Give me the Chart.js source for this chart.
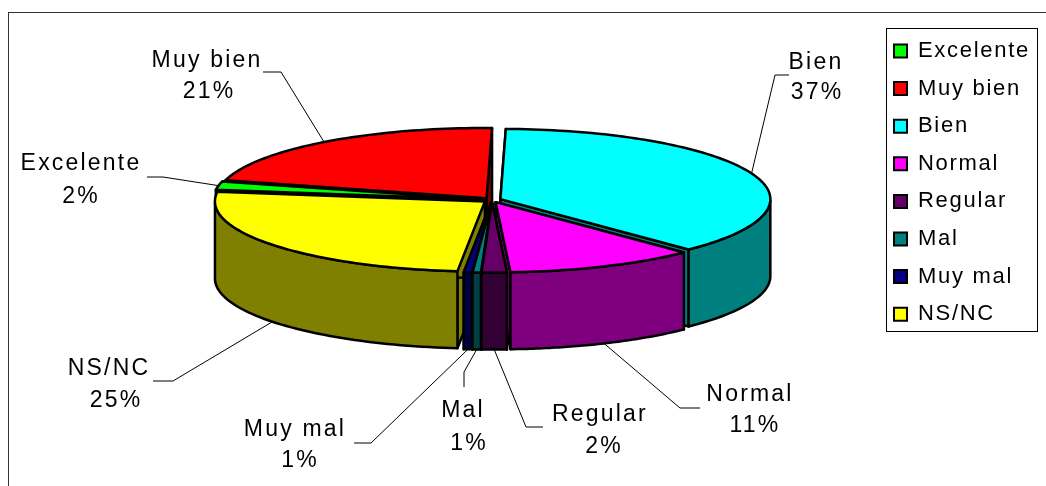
<!DOCTYPE html>
<html>
<head>
<meta charset="utf-8">
<style>
  html, body { margin: 0; padding: 0; background: #fff; overflow: hidden; }
  #frame { position: absolute; left: 8px; top: 12px; width: 1100px; height: 500px; border-left: 1px solid #333; border-top: 1px solid #333; }
  #k1 { position: absolute; left: 0; top: 0; }
</style>
<script src="https://cdn.jsdelivr.net/npm/chart.js@4"></script>
</head>
<body>
<div id="frame"></div>
<canvas id="k1" width="1046" height="486"></canvas>
<script>
const categories = ['Excelente', 'Muy bien', 'Bien', 'Normal', 'Regular', 'Mal', 'Muy mal', 'NS/NC']
const shares = [1.9, 21.2, 37.4, 11.4, 1.5, 0.5, 0.5, 25.6]
const percentLabels = ['2%', '21%', '37%', '11%', '2%', '1%', '1%', '25%']
const topColors = ['#00ff00', '#ff0000', '#00ffff', '#ff00ff', '#660066', '#008080', '#000080', '#ffff00']

// callout text centres and the two bends of each leader line
const nameSpots = [[81, 164], [207, 61], [816, 63], [750, 395], [600, 415], [463, 411], [295, 430], [109, 369]]
const percentSpots = [[81, 197], [209, 92], [817, 93], [755, 426], [604, 447], [469, 444], [300, 461], [116, 401]]
const elbows = [[163, 177], [281, 72], [775, 75], [680, 408], [526, 427], [464, 372], [371, 443], [173, 381]]
const leaderEnds = [[147, 177], [263, 72], [789, 75], [700, 408], [543, 427], [464, 387], [354, 443], [153, 381]]

const PIE_X = 492
const PIE_Y = 200
const RADIUS = 270
const SQUASH = 0.26
const DEPTH = 77
const EXPLODE = 9
const FONT_FAMILY = '"Liberation Sans", Arial, sans-serif'
const LEGEND_FRAME = { x: 886, y: 28, w: 151, h: 303 }

const halve = hex => '#' + [1, 3, 5].map(i =>
  Math.floor(parseInt(hex.substr(i, 2), 16) / 2).toString(16).padStart(2, '0')).join('')

const squashed = (ctx, x, y) => {
  ctx.translate(x, y)
  ctx.scale(1, SQUASH)
  ctx.translate(-x, -y)
}

// screen position of a rim point of an arc
const rimPoint = (arc, angle) => ({
  x: arc.x + arc.outerRadius * Math.cos(angle),
  y: PIE_Y + (arc.y - PIE_Y) * SQUASH + arc.outerRadius * Math.sin(angle) * SQUASH
})
const apexPoint = arc => ({ x: arc.x, y: PIE_Y + (arc.y - PIE_Y) * SQUASH })

const pie3d = {
  id: 'pie3d',
  beforeDraw(chart) {
    chart.ctx.letterSpacing = '1.7px'
  },
  afterLayout(chart) {
    chart.legend.left = LEGEND_FRAME.x - chart.options.plugins.legend.labels.padding + 8
    chart.legend.top = LEGEND_FRAME.y - 3.6
  },
  afterDatasetsUpdate(chart) {
    chart.getDatasetMeta(0).data.forEach(arc => {
      const mid = (arc.startAngle + arc.endAngle) / 2
      arc.x = PIE_X + EXPLODE * Math.cos(mid)
      arc.y = PIE_Y + EXPLODE * Math.sin(mid)
    })
  },
  beforeDatasetsDraw(chart) {
    const ctx = chart.ctx
    ctx.letterSpacing = '0px'
    const arcs = chart.getDatasetMeta(0).data
    const order = arcs.map((a, i) => i).sort((i, j) => apexPoint(arcs[i]).y - apexPoint(arcs[j]).y)
    ctx.save()
    ctx.lineWidth = 2.5
    ctx.lineJoin = 'round'
    ctx.strokeStyle = '#000'
    order.forEach(i => {
      const arc = arcs[i]
      const apex = apexPoint(arc)
      ctx.fillStyle = halve(topColors[i])
      // the two cut faces
      ;[arc.startAngle, arc.endAngle].forEach(angle => {
        const p = rimPoint(arc, angle)
        ctx.beginPath()
        ctx.moveTo(apex.x, apex.y)
        ctx.lineTo(p.x, p.y)
        ctx.lineTo(p.x, p.y + DEPTH)
        ctx.lineTo(apex.x, apex.y + DEPTH)
        ctx.closePath()
        ctx.fill()
        ctx.stroke()
      })
      // outer wall, only the part that faces the front
      const steps = 60
      const pts = []
      for (let s = 0; s <= steps; s++) {
        const a = arc.startAngle + (arc.endAngle - arc.startAngle) * s / steps
        if (Math.sin(a) >= 0) pts.push(rimPoint(arc, a))
      }
      if (pts.length > 1) {
        ctx.beginPath()
        pts.forEach((p, k) => k ? ctx.lineTo(p.x, p.y) : ctx.moveTo(p.x, p.y))
        pts.slice().reverse().forEach(p => ctx.lineTo(p.x, p.y + DEPTH))
        ctx.closePath()
        ctx.fill()
        ctx.stroke()
      }
    })
    ctx.restore()
    // tops are drawn by the library, squashed around the pie centre
    ctx.save()
    squashed(ctx, PIE_X, PIE_Y)
  },
  afterDatasetsDraw(chart) {
    const ctx = chart.ctx
    ctx.restore()
    const arcs = chart.getDatasetMeta(0).data
    ctx.save()
    ctx.lineWidth = 2.5
    ctx.lineJoin = 'round'
    ctx.strokeStyle = '#000'
    arcs.forEach(arc => {
      const apex = apexPoint(arc)
      ctx.beginPath()
      ctx.moveTo(apex.x, apex.y)
      const steps = Math.max(2, Math.ceil(arc.circumference * 40))
      for (let s = 0; s <= steps; s++) {
        const p = rimPoint(arc, arc.startAngle + (arc.endAngle - arc.startAngle) * s / steps)
        ctx.lineTo(p.x, p.y)
      }
      ctx.closePath()
      ctx.stroke()
    })
    ctx.restore()

    // callouts
    ctx.save()
    ctx.font = `23px ${FONT_FAMILY}`
    ctx.letterSpacing = '2.2px'
    ctx.fillStyle = '#000'
    ctx.textAlign = 'center'
    ctx.textBaseline = 'middle'
    arcs.forEach((arc, i) => {
      const mid = (arc.startAngle + arc.endAngle) / 2
      const rim = rimPoint(arc, mid)
      ctx.beginPath()
      ctx.moveTo(rim.x, Math.sin(mid) > 0 ? rim.y + DEPTH : rim.y)
      ctx.lineTo(elbows[i][0], elbows[i][1])
      ctx.lineTo(leaderEnds[i][0], leaderEnds[i][1])
      ctx.lineWidth = 1
      ctx.strokeStyle = '#000'
      ctx.stroke()
      ctx.fillText(categories[i], nameSpots[i][0], nameSpots[i][1])
      ctx.fillText(percentLabels[i], percentSpots[i][0], percentSpots[i][1])
    })
    ctx.restore()

    // legend frame
    ctx.save()
    ctx.strokeStyle = '#000'
    ctx.lineWidth = 1
    ctx.strokeRect(LEGEND_FRAME.x + 0.5, LEGEND_FRAME.y + 0.5, LEGEND_FRAME.w, LEGEND_FRAME.h)
    ctx.restore()
  }
}

new Chart(document.getElementById('k1'), {
  type: 'pie',
  data: {
    labels: categories,
    datasets: [{
      data: shares,
      backgroundColor: topColors,
      borderWidth: 0
    }]
  },
  options: {
    responsive: false,
    animation: false,
    events: [],
    rotation: -82,
    radius: RADIUS,
    plugins: {
      tooltip: { enabled: false },
      legend: {
        position: 'right',
        align: 'start',
        labels: {
          boxWidth: 13,
          boxHeight: 13,
          padding: 15.6,
          color: '#000',
          font: { family: FONT_FAMILY, size: 22 },
          generateLabels: chart =>
            Chart.overrides.pie.plugins.legend.labels.generateLabels(chart).map(item => ({
              ...item, strokeStyle: '#000', lineWidth: 2
            }))
        }
      }
    }
  },
  plugins: [pie3d]
})
</script>
</body>
</html>
